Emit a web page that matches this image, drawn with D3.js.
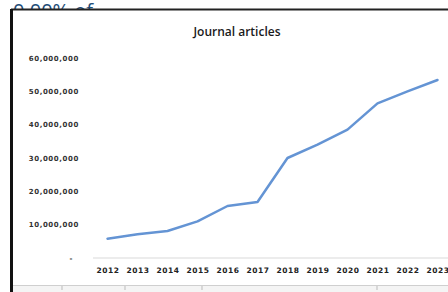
<!DOCTYPE html>
<html>
<head>
<meta charset="utf-8">
<script src="https://cdn.jsdelivr.net/npm/d3@7"></script>
<style>
  body { margin: 0; background: #fff; }
  svg { display: block; }
</style>
</head>
<body>
<script>
const years = [2012, 2013, 2014, 2015, 2016, 2017, 2018, 2019, 2020, 2021, 2022, 2023];
const articles = [5800000, 7100000, 8100000, 11000000, 15600000, 16800000, 30000000, 34000000, 38500000, 46400000, 50000000, 53400000];
const yTicks = [0, 10000000, 20000000, 30000000, 40000000, 50000000, 60000000];

const W = 448, H = 292;
const svg = d3.select("body").append("svg")
  .attr("width", W)
  .attr("height", H);

// cut-off text from the page above the chart
svg.append("text")
  .attr("x", 13)
  .attr("y", 18)
  .attr("font-family", "Open Sans, sans-serif")
  .attr("font-size", 20)
  .attr("fill", "#1f4e79")
  .text("0.00% of");

// chart box
svg.append("rect")
  .attr("x", 11).attr("y", 9)
  .attr("width", W).attr("height", H)
  .attr("fill", "#fff");
svg.append("line")
  .attr("x1", 11).attr("x2", W).attr("y1", 9.5).attr("y2", 9.5)
  .attr("stroke", "#222").attr("stroke-width", 2);
svg.append("line")
  .attr("x1", 11.5).attr("x2", 11.5).attr("y1", 9).attr("y2", H)
  .attr("stroke", "#111").attr("stroke-width", 3);

// page strip at bottom
svg.append("rect")
  .attr("x", 13).attr("y", 286)
  .attr("width", W).attr("height", 6)
  .attr("fill", "#f4f4f4");
svg.append("line")
  .attr("x1", 13).attr("x2", W).attr("y1", 285.5).attr("y2", 285.5)
  .attr("stroke", "#cfcfcf");
[62, 125, 202, 377].forEach(x => {
  svg.append("line")
    .attr("x1", x).attr("x2", x).attr("y1", 286).attr("y2", 290)
    .attr("stroke", "#bbb");
});

const x = d3.scaleLinear().domain([2012, 2023]).range([107.5, 437.5]);
const y = d3.scaleLinear().domain([0, 60000000]).range([258, 58]);

svg.append("text")
  .attr("x", 237)
  .attr("y", 36)
  .attr("text-anchor", "middle")
  .attr("font-family", "Open Sans, sans-serif")
  .attr("font-size", 12)
  .attr("font-weight", 600)
  .attr("fill", "#1a1a1a")
  .text("Journal articles");

// y axis labels
const yAxis = svg.append("g")
  .attr("transform", "translate(79,0)")
  .call(d3.axisLeft(y).tickValues(yTicks).tickSize(0).tickPadding(0)
    .tickFormat(d => d === 0 ? "-" : d3.format(",")(d)));
yAxis.select(".domain").remove();
yAxis.selectAll("text")
  .attr("font-family", "DejaVu Sans, sans-serif")
  .attr("font-size", 7)
  .attr("font-weight", "bold")
  .attr("letter-spacing", 0.6)
  .attr("fill", "#333");
yAxis.selectAll(".tick").filter(d => d === 0).select("text")
  .attr("x", -6);

// baseline
svg.append("line")
  .attr("x1", 93).attr("x2", W)
  .attr("y1", y(0)).attr("y2", y(0))
  .attr("stroke", "#d9d9d9").attr("stroke-width", 1.2);

// x axis labels
const xAxis = svg.append("g")
  .attr("transform", "translate(0," + y(0) + ")")
  .call(d3.axisBottom(x).tickValues(years).tickSize(0).tickPadding(10)
    .tickFormat(d3.format("d")));
xAxis.select(".domain").remove();
xAxis.selectAll("text")
  .attr("font-family", "DejaVu Sans, sans-serif")
  .attr("font-size", 7.5)
  .attr("font-weight", "bold")
  .attr("letter-spacing", 0.5)
  .attr("fill", "#222");

// series
const line = d3.line()
  .x((d, i) => x(years[i]))
  .y(d => y(d));
svg.append("path")
  .datum(articles)
  .attr("d", line)
  .attr("fill", "none")
  .attr("stroke", "#6494d4")
  .attr("stroke-width", 2.5)
  .attr("stroke-linejoin", "round")
  .attr("stroke-linecap", "round");
</script>
</body>
</html>
